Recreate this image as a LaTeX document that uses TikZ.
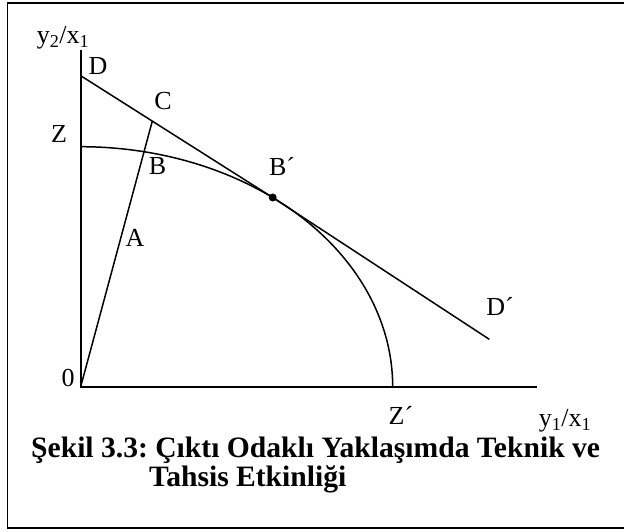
\documentclass[tikz,border=0pt]{standalone}
\usepackage{fontspec}
\setmainfont{Liberation Serif}
\frenchspacing
\begin{document}
\begin{tikzpicture}[x=1pt,y=-1pt,
  lbl/.style={inner sep=0pt, font=\fontsize{26}{28}\selectfont},
  axisline/.style={line width=1.6pt},
  graphline/.style={line width=1.5pt},
  framebox/.style={line width=1.8pt},
  capstyle/.style={inner sep=0pt, anchor=base west,
    font=\bfseries\fontsize{29.6}{29.6}\selectfont}]
\useasboundingbox (0,0) rectangle (624,531);
\clip (0,0) rectangle (624,531);
\draw[framebox] (7.5,3) rectangle (640,528);
% points
\coordinate (O) at (80.7,386.7);
\coordinate (Ytop) at (80.7,50);
\coordinate (Xend) at (537,386.7);
\coordinate (Dp) at (80.7,75.7);
\coordinate (Cp) at (152.3,121.1);
\coordinate (Bdot) at (272.7,197.5);
\coordinate (Dend) at (489.3,339.3);
% axes
\draw[axisline] (Ytop) -- (O) -- (Xend);
% ray 0C
\draw[graphline] (O) -- (Cp);
% budget line DD'
\draw[graphline] (Dp) -- (Bdot) -- (Dend);
% frontier ZZ'
\draw[graphline] plot[domain=0:90,samples=90,smooth]
  ({80.7+312*cos(\x)},{386.7-240*sin(\x)});
\fill (Bdot) circle (4);
% labels
\node[lbl] (ylab) at (63,38) {y\textsubscript{2}/x\textsubscript{1}};
\node[lbl] (Dl) at (98,66) {D};
\node[lbl] (Cl) at (163,101.5) {C};
\node[lbl] (Zl) at (59,133.5) {Z};
\node[lbl] (Bl) at (157.5,166.5) {B};
\node[lbl] (Bpl) at (282,166.5) {B´};
\node[lbl] (Al) at (135,237.5) {A};
\node[lbl] (Dpl) at (500,306.7) {D´};
\node[lbl] (Ol) at (68,378) {0};
\node[lbl] (Zpl) at (401,415.5) {Z´};
\node[lbl] (xlab) at (565,421) {y\textsubscript{1}/x\textsubscript{1}};
% caption
\node[capstyle] (cap1) at (31,457.5) {Şekil 3.3: Çıktı Odaklı Yaklaşımda Teknik ve};
\node[capstyle] (cap2) at (149,486.7) {Tahsis Etkinliği};
\end{tikzpicture}
\end{document}
